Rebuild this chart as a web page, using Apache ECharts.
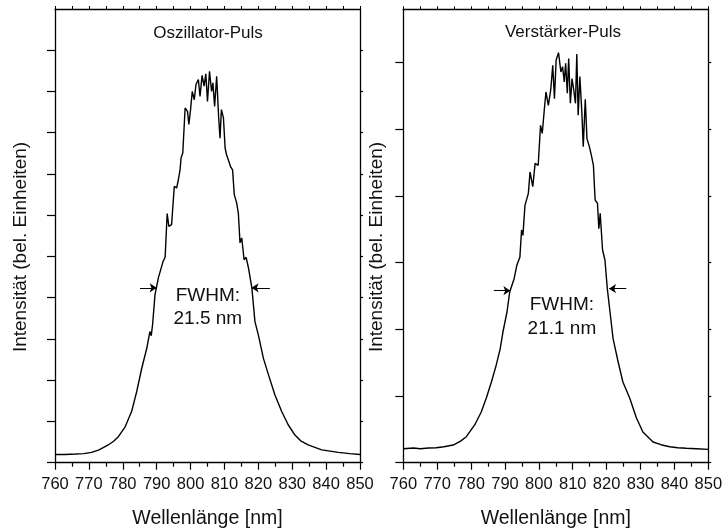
<!DOCTYPE html>
<html>
<head>
<meta charset="utf-8">
<script src="https://cdn.jsdelivr.net/npm/echarts@6/dist/echarts.min.js"></script>
<style>
  html, body { margin: 0; background: #fff; }
  #chart { width: 726px; height: 529px; }
</style>
</head>
<body>
<div id="chart"></div>
<script>
// Oszillator-Puls (links)
const wlOsc = [760, 763, 766, 768.5, 770.8, 773, 775.7, 777.3, 778.7, 780.7,
  782.6, 784.1, 785.6, 787.1, 788.0, 788.4, 788.8, 789.5, 790.5, 791.9,
  792.5, 793.1, 793.6, 794.4, 795.2, 795.9, 796.4, 796.9, 797.2, 797.7,
  798.4, 799.1, 799.5, 800.0, 800.5, 801.1, 801.6, 802.3, 802.8, 803.4,
  804.0, 804.5, 805.0, 805.6, 806.2, 806.6, 807.1, 807.7, 808.3, 808.7,
  809.1, 809.7, 810.2, 810.6, 811.1, 811.8, 812.4, 812.9, 813.6, 814.1,
  814.6, 815.1, 815.8, 816.4, 817.1, 818.1, 819.0, 820.0, 821.5, 823.0,
  824.9, 826.9, 828.8, 830.8, 832.5, 834.7, 838.7, 843.6, 847, 850];
const intOsc = [0.20, 0.20, 0.21, 0.22, 0.25, 0.31, 0.43, 0.52, 0.63, 0.87,
  1.24, 1.72, 2.29, 2.78, 3.18, 3.08, 3.35, 4.07, 4.48, 4.88,
  4.98, 6.04, 5.73, 5.77, 6.70, 6.66, 6.86, 7.10, 7.39, 7.51,
  8.60, 8.52, 8.20, 8.56, 9.00, 8.80, 9.17, 9.29, 8.88, 9.39,
  9.13, 9.43, 8.76, 9.49, 9.00, 9.21, 8.64, 9.37, 8.36, 7.87,
  8.56, 8.36, 7.63, 7.47, 7.43, 7.18, 7.10, 6.50, 6.30, 6.05,
  5.33, 5.45, 4.92, 4.98, 4.72, 4.23, 3.42, 3.10, 2.53, 2.13,
  1.64, 1.24, 0.92, 0.67, 0.53, 0.43, 0.31, 0.25, 0.22, 0.20];

// Verstärker-Puls (rechts)
const wlAmp = [760, 763, 765, 767.5, 769.7, 772, 774.7, 776.8, 778.6, 781.1,
  783.0, 784.5, 786.0, 787.4, 788.6, 789.4, 790.6, 791.4, 792.7, 793.5,
  794.4, 794.9, 795.3, 795.9, 796.9, 797.4, 798.2, 798.9, 799.8, 800.5,
  801.0, 801.6, 802.1, 802.8, 803.5, 804.1, 804.6, 805.1, 805.8, 806.5,
  807.0, 807.5, 807.9, 808.4, 808.8, 809.3, 809.8, 810.3, 810.8, 811.2,
  811.6, 812.1, 812.7, 813.1, 813.7, 814.2, 814.9, 815.5, 816.1, 816.6,
  817.3, 817.7, 818.1, 818.8, 819.5, 820.2, 821.0, 821.9, 823.4, 824.8,
  826.8, 828.8, 830.7, 833.7, 836, 838.6, 841, 843.5, 846.5, 850];
const intAmp = [0.21, 0.22, 0.21, 0.22, 0.225, 0.24, 0.265, 0.32, 0.39, 0.57,
  0.76, 0.97, 1.21, 1.46, 1.71, 1.96, 2.26, 2.56, 2.76, 2.96,
  3.08, 3.49, 3.41, 3.86, 4.04, 4.36, 4.14, 4.49, 4.46, 5.06,
  4.94, 5.29, 5.56, 5.36, 5.59, 5.96, 5.46, 6.04, 6.15, 5.86,
  5.94, 5.71, 5.99, 5.54, 6.06, 5.39, 5.76, 5.59, 5.39, 6.13,
  5.21, 5.79, 5.24, 4.74, 5.45, 4.86, 4.74, 4.61, 4.46, 3.94,
  3.89, 3.51, 3.74, 3.19, 3.04, 2.61, 2.26, 1.86, 1.51, 1.21,
  0.97, 0.67, 0.46, 0.31, 0.27, 0.24, 0.225, 0.216, 0.21, 0.20];

const yTicksOsc = [0, 1, 2, 3, 4, 5, 6, 7, 8, 9, 10];
const yTicksAmp = [0, 1, 2, 3, 4, 5, 6];

// FWHM-Pfeile [x von, x bis, y]
const arrowsOsc = [[785.1, 790.0, 4.24], [823.4, 818.0, 4.24]];
const arrowsAmp = [[786.7, 791.6, 2.58], [825.8, 820.7, 2.61]];

const FONT = 'Liberation Sans, Arial, sans-serif';
const black = '#000';

function zip(a, b) { return a.map((v, i) => [v, b[i]]); }

function bottomAxis(grid) {
  return {
    gridIndex: grid, type: 'value', position: 'bottom',
    min: 760, max: 850, interval: 10,
    axisLine: { onZero: false, lineStyle: { color: black, width: 1.3 } },
    axisTick: { length: 7, lineStyle: { color: black, width: 1.2 } },
    minorTick: { show: true, splitNumber: 2, length: 4, lineStyle: { color: black, width: 1.2 } },
    axisLabel: { margin: 13, fontSize: 16.5, color: '#111', fontFamily: FONT },
    splitLine: { show: false },
    name: 'Wellenlänge [nm]', nameLocation: 'middle', nameGap: 46,
    nameTextStyle: { fontSize: 19.5, color: '#111', fontFamily: FONT }
  };
}
function topAxis(grid) {
  return {
    gridIndex: grid, type: 'value', position: 'top',
    min: 760, max: 850, interval: 5,
    axisLine: { onZero: false, lineStyle: { color: black, width: 1.3 } },
    axisTick: { length: 3, lineStyle: { color: black, width: 1 } },
    axisLabel: { show: false },
    splitLine: { show: false }
  };
}
function sideAxis(grid, pos, max, ticks, len) {
  return {
    gridIndex: grid, type: 'value', position: pos,
    min: 0, max: max, interval: 1,
    axisLine: { show: true, onZero: false, lineStyle: { color: black, width: 1.3 } },
    axisTick: { show: true, length: len, customValues: ticks, lineStyle: { color: black, width: 1.2 } },
    axisLabel: { show: false },
    splitLine: { show: false }
  };
}

function arrowLines(arr) {
  return arr.map(a => [{ coord: [a[0], a[2]] }, { coord: [a[1], a[2]] }]);
}

function spectrum(xi, yi, data, arrows, labelPos, labelText) {
  return {
    type: 'line', xAxisIndex: xi, yAxisIndex: yi,
    data: data, showSymbol: false, smooth: false,
    lineStyle: { color: black, width: 1.4 },
    itemStyle: { color: black },
    markLine: {
      silent: true, symbol: ['none', 'arrow'], symbolSize: 7,
      lineStyle: { color: black, width: 1, type: 'solid' },
      label: { show: false },
      data: arrowLines(arrows)
    },
    markPoint: {
      silent: true, symbol: 'circle', symbolSize: 0,
      label: {
        show: true, position: 'inside', formatter: labelText,
        fontSize: 19, lineHeight: 23.6, color: '#111', fontFamily: FONT
      },
      data: [{ coord: labelPos }]
    }
  };
}

const chart = echarts.init(document.getElementById('chart'));

chart.setOption({
  animation: false,
  backgroundColor: '#fff',
  grid: [
    { left: 55, top: 9, width: 305, height: 453.7, outerBoundsMode: 'none' },
    { left: 403.3, top: 9.3, width: 305, height: 453.4, outerBoundsMode: 'none' }
  ],
  xAxis: [bottomAxis(0), topAxis(0), bottomAxis(1), topAxis(1)],
  yAxis: [
    sideAxis(0, 'left', 11, yTicksOsc, 8),
    sideAxis(0, 'right', 11, yTicksOsc, 3),
    sideAxis(1, 'left', 6.8, yTicksAmp, 8),
    sideAxis(1, 'right', 6.8, yTicksAmp, 3)
  ],
  series: [
    spectrum(0, 0, zip(wlOsc, intOsc), arrowsOsc, [805.1, 3.77], 'FWHM:\n21.5 nm'),
    spectrum(2, 2, zip(wlAmp, intAmp), arrowsAmp, [806.8, 2.19], 'FWHM:\n21.1 nm')
  ],
  graphic: [
    { type: 'text', x: 208, y: 33, style: { text: 'Oszillator-Puls', fontSize: 17, fontFamily: FONT, fill: '#111', align: 'center', verticalAlign: 'middle' } },
    { type: 'text', x: 563, y: 32, style: { text: 'Verstärker-Puls', fontSize: 17, fontFamily: FONT, fill: '#111', align: 'center', verticalAlign: 'middle' } },
    { type: 'text', x: 20.5, y: 247, rotation: Math.PI / 2, style: { text: 'Intensität (bel. Einheiten)', fontSize: 19, fontFamily: FONT, fill: '#111', align: 'center', verticalAlign: 'middle' } },
    { type: 'text', x: 377, y: 247, rotation: Math.PI / 2, style: { text: 'Intensität (bel. Einheiten)', fontSize: 19, fontFamily: FONT, fill: '#111', align: 'center', verticalAlign: 'middle' } }
  ]
});
</script>
</body>
</html>
